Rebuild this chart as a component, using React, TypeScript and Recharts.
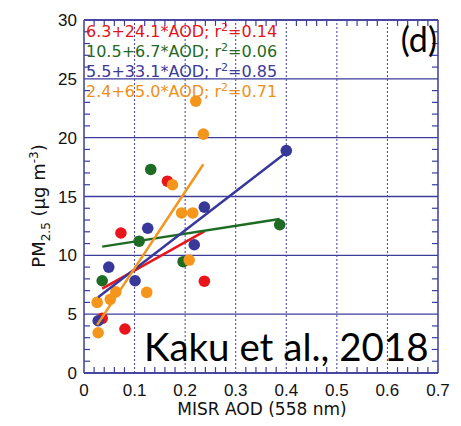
import React from 'react';
import { ScatterChart, Scatter, XAxis, YAxis, CartesianGrid, ReferenceLine } from 'recharts';

const X_TICKS = [0, 0.1, 0.2, 0.3, 0.4, 0.5, 0.6, 0.7];
const Y_TICKS = [0, 5, 10, 15, 20, 25, 30];
const X_GRID = [0.1, 0.2, 0.3, 0.4, 0.5, 0.6];

// minor ticks: every 0.02 on x, every 1 on y (skip the major ones)
const X_MINOR: number[] = [];
for (let i = 1; i < 35; i++) if (i % 5 !== 0) X_MINOR.push(i / 50);
const Y_MINOR: number[] = [];
for (let i = 1; i < 30; i++) if (i % 5 !== 0) Y_MINOR.push(i);

const RED_PTS = [
  { x: 0.073, y: 11.9 },
  { x: 0.165, y: 16.3 },
  { x: 0.238, y: 7.8 },
  { x: 0.036, y: 4.65 },
  { x: 0.081, y: 3.74 },
];
const GREEN_PTS = [
  { x: 0.132, y: 17.3 },
  { x: 0.109, y: 11.2 },
  { x: 0.196, y: 9.46 },
  { x: 0.036, y: 7.84 },
  { x: 0.387, y: 12.6 },
];
const BLUE_PTS = [
  { x: 0.238, y: 14.1 },
  { x: 0.126, y: 12.3 },
  { x: 0.218, y: 10.9 },
  { x: 0.049, y: 9.0 },
  { x: 0.101, y: 7.84 },
  { x: 0.028, y: 4.44 },
  { x: 0.4, y: 18.9 },
];
const ORANGE_PTS = [
  { x: 0.221, y: 23.1 },
  { x: 0.236, y: 20.3 },
  { x: 0.175, y: 16.0 },
  { x: 0.193, y: 13.6 },
  { x: 0.215, y: 13.6 },
  { x: 0.208, y: 9.6 },
  { x: 0.063, y: 6.9 },
  { x: 0.124, y: 6.85 },
  { x: 0.052, y: 6.26 },
  { x: 0.026, y: 6.0 },
  { x: 0.028, y: 3.42 },
];

// fitted lines (ends of each segment)
const RED_FIT = [{ x: 0.036, y: 7.17 }, { x: 0.238, y: 12.04 }];
const GREEN_FIT = [{ x: 0.036, y: 10.74 }, { x: 0.387, y: 13.09 }];
const BLUE_FIT = [{ x: 0.028, y: 6.43 }, { x: 0.4, y: 18.74 }];
const ORANGE_FIT = [{ x: 0.026, y: 4.09 }, { x: 0.236, y: 17.74 }];

const FITS = [
  { text: '6.3+24.1*AOD; r', tail: '=0.14', color: '#e3141b' },
  { text: '10.5+6.7*AOD; r', tail: '=0.06', color: '#1f6a24' },
  { text: '5.5+33.1*AOD; r', tail: '=0.85', color: '#3a3a98' },
  { text: '2.4+65.0*AOD; r', tail: '=0.71', color: '#f0901a' },
];

const RED = '#e8161c';
const GREEN = '#1e6b24';
const BLUE = '#38389a';
const ORANGE = '#f5961c';
const NAVY = '#3d3d9c';

const W = 461;
const H = 426;

const dot = (color: string) => (p: any) => <circle cx={p.cx} cy={p.cy} r={5.8} fill={color} />;
const noDot = () => <g />;

const tickFont = { fontSize: 17, fill: '#111', fontFamily: 'Liberation Sans, Arial, sans-serif' };

export default function App() {
  return (
    <div style={{ position: 'absolute', left: 0, top: 0, width: W, height: H, background: '#fff' }}>
      <ScatterChart width={W} height={H} margin={{ top: 20, right: 23, bottom: 13, left: 44 }}>
        <CartesianGrid vertical={false} stroke={NAVY} strokeWidth={1.3} />
        {X_GRID.map((v) => (
          <ReferenceLine key={'g' + v} x={v} stroke={NAVY} strokeWidth={1} strokeDasharray="2 2" />
        ))}
        <XAxis
          type="number"
          dataKey="x"
          domain={[0, 0.7]}
          ticks={X_TICKS}
          interval={0}
          height={40}
          tickSize={0}
          tickMargin={11}
          tickLine={false}
          axisLine={{ stroke: NAVY, strokeWidth: 1.5 }}
          tick={tickFont}
          tickFormatter={(v: number) => String(v)}
        />
        <YAxis
          type="number"
          dataKey="y"
          domain={[0, 30]}
          ticks={Y_TICKS}
          interval={0}
          width={40}
          tickSize={0}
          tickMargin={7}
          tickLine={false}
          axisLine={{ stroke: NAVY, strokeWidth: 1.5 }}
          tick={tickFont}
        />
        <ReferenceLine y={30} stroke={NAVY} strokeWidth={1.5} />
        <ReferenceLine x={0.7} stroke={NAVY} strokeWidth={1.5} />
        {X_MINOR.map((v) => (
          <ReferenceLine key={'xb' + v} segment={[{ x: v, y: 0 }, { x: v, y: 0.5 }]} stroke={NAVY} strokeWidth={1.2} />
        ))}
        {X_MINOR.map((v) => (
          <ReferenceLine key={'xt' + v} segment={[{ x: v, y: 30 }, { x: v, y: 29.5 }]} stroke={NAVY} strokeWidth={1.2} />
        ))}
        {Y_MINOR.map((v) => (
          <ReferenceLine key={'yl' + v} segment={[{ x: 0, y: v }, { x: 0.012, y: v }]} stroke={NAVY} strokeWidth={1.2} />
        ))}
        {Y_MINOR.map((v) => (
          <ReferenceLine key={'yr' + v} segment={[{ x: 0.7, y: v }, { x: 0.688, y: v }]} stroke={NAVY} strokeWidth={1.2} />
        ))}
        <Scatter data={RED_PTS} shape={dot(RED)} isAnimationActive={false} />
        <Scatter data={GREEN_PTS} shape={dot(GREEN)} isAnimationActive={false} />
        <Scatter data={BLUE_PTS} shape={dot(BLUE)} isAnimationActive={false} />
        <Scatter data={ORANGE_PTS} shape={dot(ORANGE)} isAnimationActive={false} />
        <Scatter data={RED_FIT} line={{ stroke: RED, strokeWidth: 2.5 }} shape={noDot} isAnimationActive={false} />
        <Scatter data={GREEN_FIT} line={{ stroke: GREEN, strokeWidth: 2.5 }} shape={noDot} isAnimationActive={false} />
        <Scatter data={BLUE_FIT} line={{ stroke: BLUE, strokeWidth: 2.5 }} shape={noDot} isAnimationActive={false} />
        <Scatter data={ORANGE_FIT} line={{ stroke: ORANGE, strokeWidth: 2.5 }} shape={noDot} isAnimationActive={false} />
      </ScatterChart>
      <svg width={W} height={H} style={{ position: 'absolute', left: 0, top: 0, pointerEvents: 'none' }}>
        {FITS.map((f, i) => (
          <text key={i} x={86} y={37 + i * 20} fill={f.color} fontSize={16} fontFamily="DejaVu Sans, sans-serif">
            {f.text}
            <tspan dy={-6} fontSize={11}>2</tspan>
            <tspan dy={6}>{f.tail}</tspan>
          </text>
        ))}
        <text x={437} y={52} textAnchor="end" fontSize={34} fill="#000" fontFamily="Lato, sans-serif">(d)</text>
        <text x={144} y={361} fontSize={38.5} fill="#000" fontFamily="Lato, sans-serif">Kaku et al., 2018</text>
        <text x={262} y={415} textAnchor="middle" fontSize={17} fill="#111" fontFamily="DejaVu Sans, sans-serif">
          MISR AOD (558 nm)
        </text>
        <text transform="translate(45,206) rotate(-90)" textAnchor="middle" fontSize={18} fill="#111" fontFamily="DejaVu Sans, sans-serif">
          PM<tspan fontSize={12} dy={5}>2.5</tspan>
          <tspan dy={-5}> (μg m</tspan>
          <tspan fontSize={12} dy={-7}>-3</tspan>
          <tspan dy={7}>)</tspan>
        </text>
      </svg>
    </div>
  );
}
